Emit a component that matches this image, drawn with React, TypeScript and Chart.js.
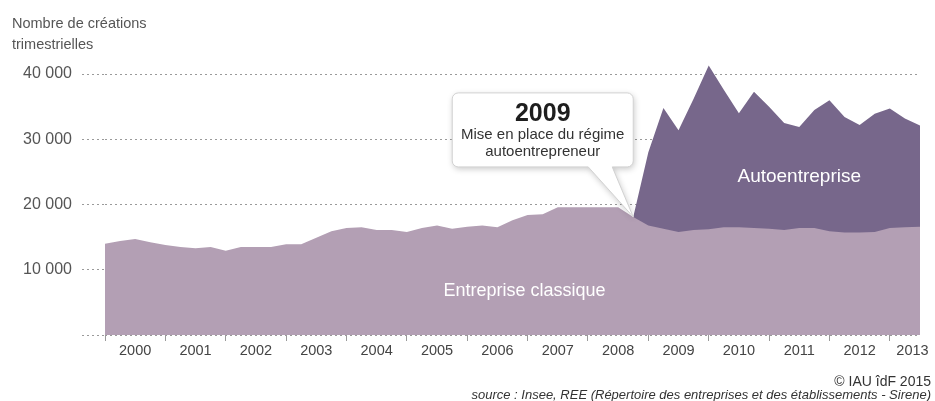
import React, { useEffect, useRef } from 'react';
import { Chart, registerables } from 'chart.js';

Chart.register(...registerables);

// ---- Data (quarterly business creations, 2000 T1 → 2013 T3) ----
const years = ['2000', '2001', '2002', '2003', '2004', '2005', '2006', '2007', '2008', '2009', '2010', '2011', '2012', '2013'];
const quarterNames = ['T1', 'T2', 'T3', 'T4'];
const quarterLabels = years.flatMap((y) => quarterNames.map((q) => `${y} ${q}`)).slice(0, 55);

const classicValues = [
  14000, 14400, 14700, 14200, // 2000
  13800, 13500, 13300, 13500, // 2001
  12900, 13500, 13500, 13500, // 2002
  13900, 13900, 14900, 15900, // 2003
  16400, 16500, 16100, 16100, // 2004
  15800, 16400, 16800, 16300, // 2005
  16600, 16800, 16500, 17600, // 2006
  18400, 18500, 19600, 19600, // 2007
  19600, 19600, 19600, 18100, // 2008
  16800, 16300, 15800, 16100, // 2009
  16200, 16500, 16500, 16400, // 2010
  16300, 16100, 16400, 16400, // 2011
  15900, 15700, 15700, 15800, // 2012
  16400, 16500, 16600,        // 2013
];

// Auto-entreprise creations, from 2008 T4 (0, regime not yet in place) to 2013 T3
const autoStartIndex = 35;
const autoValues = [
  0,
  11200, 18500, 15600, 20100, // 2009
  25100, 21100, 17500, 20900, // 2010
  18700, 16400, 15500, 18100, // 2011
  20100, 17700, 16500, 18100, // 2012
  18300, 16700, 15500,        // 2013
];

const yTickValues = [0, 10000, 20000, 30000, 40000];

const seriesLabels = [
  { text: 'Autoentreprise', q: 46, v: 24200, size: 19 },
  { text: 'Entreprise classique', q: 27.8, v: 6740, size: 18 },
];

const FONT = "'Liberation Sans', Arial, Helvetica, sans-serif";
const CLASSIC_COLOR = '#B39FB4';
const AUTO_COLOR = '#77678B';

const fmt = (v: number) => String(v).replace(/\B(?=(\d{3})+(?!\d))/g, ' ');

const xTickValues: number[] = [];
years.forEach((_, i) => {
  xTickValues.push(i * 4);
  xTickValues.push(i < years.length - 1 ? i * 4 + 2 : i * 4 + 1.5);
});

const labelForX = (v: number) => {
  if (v % 4 === 0) return '';
  return years[Math.floor(v / 4)] || '';
};

const overlayPlugin = {
  id: 'overlay',
  afterDatasetsDraw(chart: any) {
    const { ctx, scales } = chart;
    const x = scales.x;
    const y = scales.y;
    ctx.save();
    // series labels
    ctx.fillStyle = '#ffffff';
    ctx.textAlign = 'center';
    ctx.textBaseline = 'middle';
    seriesLabels.forEach((l) => {
      ctx.font = `${l.size}px ${FONT}`;
      ctx.fillText(l.text, x.getPixelForValue(l.q), y.getPixelForValue(l.v));
    });

    // callout pointing at 2008 T4
    const tipX = x.getPixelForValue(autoStartIndex);
    const tipY = y.getPixelForValue(classicValues[autoStartIndex]);
    const R = tipX;
    const L = R - 181;
    const B = tipY - 50;
    const T = tipY - 124;
    const r = 6;
    const path = () => {
      ctx.beginPath();
      ctx.moveTo(L + r, T);
      ctx.lineTo(R - r, T);
      ctx.arcTo(R, T, R, T + r, r);
      ctx.lineTo(R, B - r);
      ctx.arcTo(R, B, R - r, B, r);
      ctx.lineTo(L + 160, B);
      ctx.lineTo(tipX, tipY);
      ctx.lineTo(L + 136, B);
      ctx.lineTo(L + r, B);
      ctx.arcTo(L, B, L, B - r, r);
      ctx.lineTo(L, T + r);
      ctx.arcTo(L, T, L + r, T, r);
      ctx.closePath();
    };
    ctx.save();
    ctx.shadowColor = 'rgba(0,0,0,0.22)';
    ctx.shadowBlur = 6;
    ctx.shadowOffsetX = 1;
    ctx.shadowOffsetY = 2;
    path();
    ctx.fillStyle = '#ffffff';
    ctx.fill();
    ctx.restore();
    path();
    ctx.strokeStyle = '#d2d2d2';
    ctx.lineWidth = 1;
    ctx.stroke();

    const cx = (L + R) / 2;
    ctx.textAlign = 'center';
    ctx.textBaseline = 'alphabetic';
    ctx.fillStyle = '#1e1e1e';
    ctx.font = `bold 25px ${FONT}`;
    ctx.fillText('2009', cx, T + 28);
    ctx.fillStyle = '#333333';
    ctx.font = `15px ${FONT}`;
    ctx.fillText('Mise en place du régime', cx, T + 46);
    ctx.fillText('autoentrepreneur', cx, T + 63);
    ctx.restore();
  },
  afterDraw(chart: any) {
    const { ctx } = chart;
    ctx.save();
    ctx.fillStyle = '#555555';
    ctx.textAlign = 'left';
    ctx.textBaseline = 'alphabetic';
    ctx.font = `14.5px ${FONT}`;
    ctx.fillText('Nombre de créations', 12, 28);
    ctx.fillText('trimestrielles', 12, 49);

    ctx.textAlign = 'right';
    ctx.fillStyle = '#333333';
    ctx.font = `14px ${FONT}`;
    ctx.fillText('© IAU îdF 2015', 931, 386);
    ctx.font = `italic 13px ${FONT}`;
    ctx.fillText('source : Insee, REE (Répertoire des entreprises et des établissements - Sirene)', 931, 399);
    ctx.restore();
  },
};

export default function App() {
  const canvasRef = useRef<HTMLCanvasElement | null>(null);

  useEffect(() => {
    if (!canvasRef.current) return;
    const classicData = classicValues.map((v, i) => ({ x: i, y: v }));
    const autoData = quarterLabels.map((_, i) =>
      i >= autoStartIndex ? { x: i, y: autoValues[i - autoStartIndex] } : { x: i, y: null }
    );
    const chart = new Chart(canvasRef.current, {
      type: 'line',
      data: {
        datasets: [
          {
            label: 'Entreprise classique',
            data: classicData,
            fill: 'origin',
            backgroundColor: CLASSIC_COLOR,
            borderWidth: 0,
            pointRadius: 0,
            tension: 0,
            order: 1,
          },
          {
            label: 'Autoentreprise',
            data: autoData as any,
            fill: 'origin',
            backgroundColor: AUTO_COLOR,
            borderWidth: 0,
            pointRadius: 0,
            tension: 0,
            order: 2,
          },
        ],
      },
      options: {
        animation: false,
        responsive: false,
        devicePixelRatio: 1,
        layout: { padding: { top: 61, right: 15, left: 0, bottom: 0 } },
        plugins: { legend: { display: false }, tooltip: { enabled: false } },
        scales: {
          x: {
            type: 'linear',
            min: 0,
            max: quarterLabels.length - 1,
            afterBuildTicks: (s: any) => {
              s.ticks = xTickValues.map((v) => ({ value: v }));
            },
            afterFit: (s: any) => {
              s.height = 66;
            },
            border: { display: false },
            grid: {
              drawOnChartArea: false,
              drawTicks: true,
              tickLength: 6,
              tickWidth: 1,
              tickColor: (c: any) => (c.tick && c.tick.value % 4 === 0 ? '#9a9a9a' : 'rgba(0,0,0,0)'),
            },
            ticks: {
              autoSkip: false,
              maxRotation: 0,
              minRotation: 0,
              padding: 1,
              color: '#444444',
              font: { family: FONT, size: 14.5 },
              callback: (v: any) => labelForX(Number(v)),
            },
          },
          y: {
            stacked: true,
            min: 0,
            max: 42000,
            afterBuildTicks: (s: any) => {
              s.ticks = yTickValues.map((v) => ({ value: v }));
            },
            afterFit: (s: any) => {
              s.width = 105;
            },
            border: { display: false, dash: [2, 3] },
            grid: {
              color: '#9a9a9a',
              lineWidth: 1,
              drawTicks: true,
              tickLength: 23,
              tickColor: '#9a9a9a',
              tickBorderDash: [2, 3],
            },
            ticks: {
              padding: 10,
              color: '#555555',
              font: { family: FONT, size: 16 },
              callback: (v: any) => (Number(v) === 0 ? '' : fmt(Number(v))),
            },
          },
        },
      },
      plugins: [overlayPlugin],
    } as any);
    return () => chart.destroy();
  }, []);

  return (
    <div style={{ position: 'fixed', left: 0, top: 0, width: 935, height: 401, background: '#ffffff' }}>
      <canvas ref={canvasRef} width={935} height={401} />
    </div>
  );
}
